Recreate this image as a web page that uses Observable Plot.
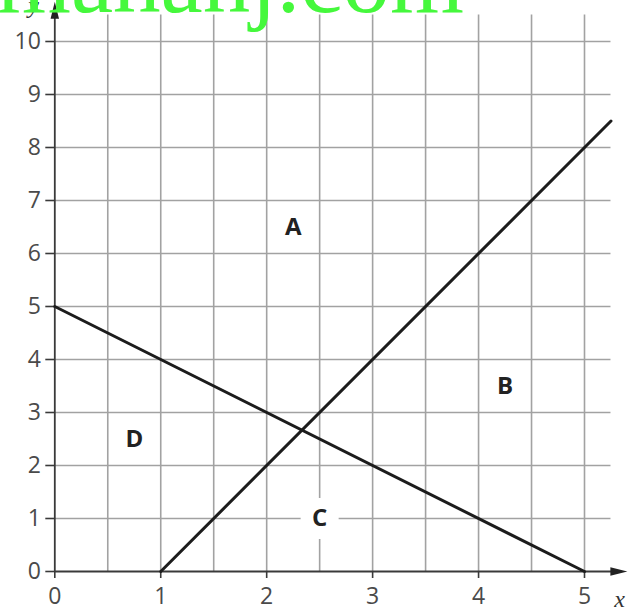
<!DOCTYPE html>
<html>
<head>
<meta charset="utf-8">
<script src="https://cdn.jsdelivr.net/npm/d3@7"></script>
<script src="https://cdn.jsdelivr.net/npm/@observablehq/plot@0.6"></script>
<style>
html, body { margin: 0; padding: 0; background: #fff; }
#wrap { position: relative; width: 630px; height: 610px; overflow: hidden; background: #fff; }
#wrap svg { display: block; }
#wm { position: absolute; left: -3px; top: -67px; font: 400 95px "Liberation Serif", serif; line-height: 1; color: #45f83c; white-space: nowrap; pointer-events: none; }
</style>
</head>
<body>
<div id="wrap"></div>
<script>
// tick labels
const xTicks = [0, 1, 2, 3, 4, 5];
const yTicks = [0, 1, 2, 3, 4, 5, 6, 7, 8, 9, 10];
// grid
const gridX = [0.5, 1, 1.5, 2, 2.5, 3, 3.5, 4, 4.5, 5];
const gridY = [1, 2, 3, 4, 5, 6, 7, 8, 9, 10];
const gridRight = 5.25;
const gridTop = 10.5;
const xArrowTip = 5.405;
const yArrowTip = 10.75;
// lines
const line1X = [1, 5.25];
const line1Y = [0, 8.5];
const line2X = [0, 5];
const line2Y = [5, 0];
// region labels
const regionLabels = ["A", "B", "C", "D"];
const regionX = [2.25, 4.25, 2.5, 0.75];
const regionY = [6.5, 3.5, 1, 2.5];
// axis names
const axisNames = ["x", "y"];
const axisNameX = [5.33, -0.2];
const axisNameY = [-0.52, 10.68];
const watermark = "mahanj.com";

const line1 = line1X.map((x, i) => ({x, y: line1Y[i]}));
const line2 = line2X.map((x, i) => ({x, y: line2Y[i]}));
const regions = regionLabels.map((t, i) => ({t, x: regionX[i], y: regionY[i]}));
const names = axisNames.map((t, i) => ({t, x: axisNameX[i], y: axisNameY[i]}));

const arrowHead = {
  draw(ctx) {
    ctx.moveTo(0, 0);
    ctx.lineTo(-4.2, 17);
    ctx.lineTo(4.2, 17);
    ctx.closePath();
  }
};
const whiteBox = {
  draw(ctx) {
    ctx.rect(-19, -20.5, 38, 41);
  }
};

const gridStyle = {stroke: "#a2a2a2", strokeWidth: 1.6};
const axisColor = "#3a3a3a";
const fmt = d3.format("d");

const chart = Plot.plot({
  width: 630,
  height: 610,
  marginLeft: 54.3,
  marginRight: 46,
  marginTop: 41,
  marginBottom: 39,
  x: {domain: [0, 5], label: null},
  y: {domain: [0, 10], label: null},
  style: {background: "white", fontFamily: "Open Sans", overflow: "visible"},
  marks: [
    Plot.ruleY(gridY, {x1: 0, x2: gridRight, ...gridStyle}),
    Plot.ruleX(gridX, {y1: 0, y2: gridTop, ...gridStyle}),
    Plot.ruleY([0], {x1: 0, x2: xArrowTip - 0.12, stroke: axisColor, strokeWidth: 1.8}),
    Plot.ruleX([0], {y1: 0, y2: yArrowTip - 0.25, stroke: axisColor, strokeWidth: 1.8}),
    Plot.dot([0], {x: xArrowTip, y: 0, symbol: arrowHead, rotate: 90, fill: "#222", stroke: "none"}),
    Plot.dot([0], {x: 0, y: yArrowTip, symbol: arrowHead, fill: "#222", stroke: "none"}),
    Plot.axisX(xTicks, {tickSize: 7, tickPadding: 9, tickFormat: fmt, fontSize: 23, fontFamily: "Open Sans", stroke: axisColor, fill: "#4a4a4a", strokeWidth: 1.6, label: null}),
    Plot.axisY(yTicks, {tickSize: 9, tickPadding: 5, tickFormat: fmt, fontSize: 23, fontFamily: "Open Sans", stroke: axisColor, fill: "#4a4a4a", strokeWidth: 1.6, label: null}),
    Plot.line(line1, {x: "x", y: "y", stroke: "#1c1c1c", strokeWidth: 3}),
    Plot.line(line2, {x: "x", y: "y", stroke: "#1c1c1c", strokeWidth: 3}),
    Plot.dot(regions.filter(d => d.t === "C"), {x: "x", y: "y", symbol: whiteBox, fill: "white", stroke: "none"}),
    Plot.text(regions, {x: "x", y: "y", text: "t", fontSize: 24, fontWeight: 700, fontFamily: "Open Sans", fill: "#222"}),
    Plot.text(names, {x: "x", y: "y", text: "t", fontSize: 24, fontStyle: "italic", fontFamily: "Liberation Serif", fill: "#333"})
  ]
});

const wrap = document.getElementById("wrap");
wrap.appendChild(chart);
const wm = document.createElement("div");
wm.id = "wm";
wm.textContent = watermark;
wrap.appendChild(wm);
</script>
</body>
</html>
